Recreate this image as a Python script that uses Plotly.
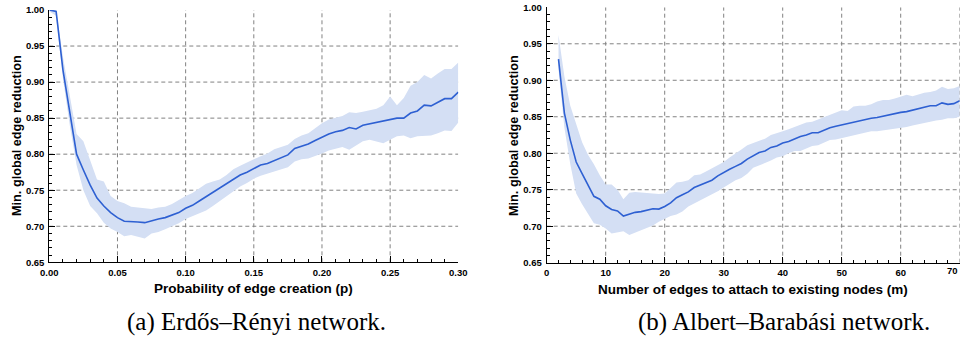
import plotly.graph_objects as go

# ---------------- data: Erdős–Rényi ----------------
er_p = [round(i * 0.005, 3) for i in range(61)]
er_mean = [1.000, 0.998, 0.917, 0.857, 0.800, 0.778, 0.757, 0.739, 0.728, 0.719,
           0.712, 0.707, 0.707, 0.706, 0.705, 0.708, 0.710, 0.712, 0.715, 0.719,
           0.725, 0.729, 0.735, 0.741, 0.748, 0.753, 0.759, 0.766, 0.771, 0.775,
           0.780, 0.785, 0.787, 0.791, 0.795, 0.799, 0.808, 0.811, 0.814, 0.819,
           0.824, 0.828, 0.831, 0.833, 0.837, 0.835, 0.840, 0.842, 0.843, 0.845,
           0.847, 0.850, 0.850, 0.857, 0.860, 0.868, 0.867, 0.872, 0.877, 0.877,
           0.886]
er_upper = [1.000, 1.000, 0.935, 0.880, 0.828, 0.818, 0.790, 0.765, 0.762, 0.742,
            0.735, 0.732, 0.727, 0.726, 0.725, 0.724, 0.726, 0.727, 0.731, 0.737,
            0.742, 0.746, 0.753, 0.759, 0.762, 0.765, 0.771, 0.779, 0.784, 0.789,
            0.793, 0.797, 0.801, 0.807, 0.810, 0.813, 0.821, 0.826, 0.829, 0.836,
            0.843, 0.848, 0.850, 0.853, 0.858, 0.857, 0.859, 0.861, 0.863, 0.868,
            0.880, 0.868, 0.878, 0.895, 0.900, 0.910, 0.905, 0.912, 0.918, 0.918,
            0.927]
er_lower = [0.998, 0.992, 0.905, 0.840, 0.785, 0.750, 0.728, 0.718, 0.705, 0.697,
            0.692, 0.686, 0.688, 0.685, 0.683, 0.690, 0.692, 0.696, 0.700, 0.704,
            0.710, 0.714, 0.718, 0.722, 0.728, 0.735, 0.741, 0.748, 0.755, 0.760,
            0.766, 0.770, 0.773, 0.777, 0.780, 0.782, 0.790, 0.793, 0.794, 0.797,
            0.801, 0.805, 0.807, 0.810, 0.806, 0.812, 0.818, 0.820, 0.817, 0.815,
            0.820, 0.825, 0.826, 0.822, 0.825, 0.826, 0.826, 0.829, 0.833, 0.832,
            0.844]

# ---------------- data: Albert–Barabási ----------------
ab_m = list(range(2, 71))
ab_mean = [0.929, 0.855, 0.818, 0.788, 0.772, 0.756, 0.741, 0.737, 0.728, 0.723,
           0.721, 0.714, 0.717, 0.719, 0.720, 0.722, 0.724, 0.7235, 0.727, 0.732,
           0.739, 0.743, 0.747, 0.753, 0.756, 0.759, 0.763, 0.769, 0.774, 0.778,
           0.782, 0.786, 0.792, 0.797, 0.801, 0.803, 0.808, 0.810, 0.814, 0.816,
           0.820, 0.823, 0.825, 0.828, 0.828, 0.832, 0.835, 0.837, 0.839, 0.841,
           0.842, 0.845, 0.847, 0.848, 0.849, 0.851, 0.853, 0.855, 0.856, 0.857,
           0.859, 0.860, 0.862, 0.865, 0.865, 0.869, 0.867, 0.868, 0.872]
ab_upper = [0.962, 0.905, 0.865, 0.840, 0.815, 0.798, 0.785, 0.770, 0.757, 0.757,
            0.750, 0.737, 0.746, 0.747, 0.746, 0.745, 0.745, 0.744, 0.745, 0.752,
            0.760, 0.761, 0.763, 0.770, 0.771, 0.775, 0.779, 0.784, 0.788, 0.794,
            0.799, 0.805, 0.811, 0.814, 0.818, 0.820, 0.825, 0.827, 0.830, 0.833,
            0.836, 0.840, 0.842, 0.843, 0.846, 0.850, 0.852, 0.855, 0.859, 0.858,
            0.864, 0.865, 0.865, 0.867, 0.871, 0.873, 0.873, 0.875, 0.878, 0.880,
            0.878, 0.881, 0.883, 0.884, 0.886, 0.891, 0.888, 0.889, 0.892]
ab_lower = [0.915, 0.835, 0.785, 0.745, 0.730, 0.716, 0.704, 0.702, 0.697, 0.690,
            0.692, 0.693, 0.688, 0.691, 0.694, 0.697, 0.701, 0.706, 0.710, 0.714,
            0.716, 0.720, 0.727, 0.731, 0.736, 0.740, 0.744, 0.748, 0.753, 0.758,
            0.763, 0.766, 0.772, 0.780, 0.783, 0.787, 0.790, 0.794, 0.796, 0.800,
            0.803, 0.803, 0.806, 0.810, 0.811, 0.815, 0.818, 0.819, 0.821, 0.823,
            0.825, 0.827, 0.829, 0.830, 0.830, 0.831, 0.832, 0.834, 0.835, 0.836,
            0.838, 0.840, 0.842, 0.843, 0.845, 0.846, 0.848, 0.848, 0.850]

y_ticks = [0.65, 0.70, 0.75, 0.80, 0.85, 0.90, 0.95, 1.00]
y_grid = [0.70, 0.75, 0.80, 0.85, 0.90, 0.95]
er_x_ticks = [0.00, 0.05, 0.10, 0.15, 0.20, 0.25, 0.30]
er_x_grid = [0.05, 0.10, 0.15, 0.20, 0.25]
ab_x_ticks = [0, 10, 20, 30, 40, 50, 60, 70]
ab_x_grid = [10, 20, 30, 40, 50, 60, 70]

y_title = "Min. global edge reduction"
er_x_title = "Probability of edge creation (p)"
ab_x_title = "Number of edges to attach to existing nodes (m)"
er_caption = "(a) Erdős–Rényi network."
ab_caption = "(b) Albert–Barabási network."

# ---------------- styling ----------------
W, H = 962, 343
LINE = "rgb(46,96,210)"
BAND = "rgb(212,223,244)"
GRID = "rgb(130,130,130)"
SANS = "Liberation Sans"

def px_x(v):
    return v / W

def px_y(v):
    return 1 - v / H

fig = go.Figure()

def add_panel(xs, mean, upper, lower, xa, ya):
    fig.add_trace(go.Scatter(x=xs, y=upper, mode="lines", line=dict(width=0, color=BAND),
                             xaxis=xa, yaxis=ya, showlegend=False, hoverinfo="skip"))
    fig.add_trace(go.Scatter(x=xs, y=lower, mode="lines", line=dict(width=0, color=BAND),
                             fill="tonexty", fillcolor=BAND,
                             xaxis=xa, yaxis=ya, showlegend=False, hoverinfo="skip"))
    fig.add_trace(go.Scatter(x=xs, y=mean, mode="lines", line=dict(width=1.6, color=LINE),
                             xaxis=xa, yaxis=ya, showlegend=False))

add_panel(er_p, er_mean, er_upper, er_lower, "x", "y")
add_panel(ab_m, ab_mean, ab_upper, ab_lower, "x2", "y2")

tickfont = dict(family=SANS, size=9.5, color="black", weight="bold")

def xaxis(domain, rng, ticks, minor_dtick, fmt, anchor):
    return dict(domain=domain, range=rng, tickvals=ticks, tickformat=fmt,
                showgrid=False, zeroline=False, showline=True, linecolor="black",
                linewidth=1, ticks="inside", ticklen=6, tickwidth=1, tickcolor="black",
                minor=dict(ticks="inside", ticklen=3, tickwidth=1, tickcolor="black",
                           dtick=minor_dtick, tick0=0, showgrid=False),
                tickfont=tickfont, anchor=anchor, fixedrange=True, ticklabelstandoff=1,
                automargin=False)

def yaxis(domain, anchor):
    return dict(domain=domain, range=[0.65, 1.0], tickvals=y_ticks, tickformat=".2f",
                showgrid=False, zeroline=False, showline=True, linecolor="black",
                linewidth=1, ticks="inside", ticklen=6, tickwidth=1, tickcolor="black",
                minor=dict(ticks="inside", ticklen=3, tickwidth=1, tickcolor="black",
                           dtick=0.01, tick0=0.65, showgrid=False),
                tickfont=tickfont, anchor=anchor, fixedrange=True, ticklabelstandoff=2,
                automargin=False)

fig.update_layout(
    width=W, height=H,
    margin=dict(l=0, r=0, t=0, b=0, autoexpand=False),
    paper_bgcolor="white", plot_bgcolor="white",
    xaxis=xaxis([px_x(49.3), px_x(458.3)], [0, 0.30], er_x_ticks, 0.01, ".2f", "y"),
    yaxis=yaxis([px_y(262.3), px_y(10)], "x"),
    xaxis2=xaxis([px_x(546.7), px_x(959.7)], [0, 70], ab_x_ticks, 2, "d", "y2"),
    yaxis2=yaxis([px_y(262.7), px_y(7.3)], "x2"),
)

shapes = []
for xa, ya, xg, xr in (("x", "y", er_x_grid, [0, 0.30]), ("x2", "y2", ab_x_grid, [0, 70])):
    for g in y_grid:
        shapes.append(dict(type="line", xref=xa, yref=ya, x0=xr[0], x1=xr[1], y0=g, y1=g,
                           line=dict(color=GRID, width=1, dash="4px,3px"), layer="below"))
    for g in xg:
        shapes.append(dict(type="line", xref=xa, yref=ya, x0=g, x1=g, y0=0.65, y1=1.0,
                           line=dict(color=GRID, width=1, dash="4px,3px"), layer="below"))
fig.update_layout(shapes=shapes)

title_font = dict(family=SANS, size=13.5, color="black", weight="bold")
ytitle_font = dict(family=SANS, size=12.7, color="black", weight="bold")
cap_font = dict(family="Liberation Serif", size=25, color="black")
annotations = [
    dict(text=y_title, x=px_x(17), y=px_y(136), textangle=-90, font=ytitle_font),
    dict(text=y_title, x=px_x(514), y=px_y(136), textangle=-90, font=ytitle_font),
    dict(text=er_x_title, x=px_x(253.5), y=px_y(288.5), font=title_font),
    dict(text=ab_x_title, x=px_x(753), y=px_y(289), font=title_font),
    dict(text=er_caption, x=px_x(256), y=px_y(322), font=cap_font),
    dict(text=ab_caption, x=px_x(784), y=px_y(322), font=cap_font),
]
for a in annotations:
    a.update(xref="paper", yref="paper", showarrow=False, xanchor="center", yanchor="middle")
# last x tick label of panel (b) sits at the page edge: right-align it so it stays visible
annotations.append(dict(text=str(ab_x_ticks[-1]), x=ab_x_ticks[-1], xref="x2",
                        y=px_y(270), yref="paper", showarrow=False,
                        xanchor="right", yanchor="middle", font=tickfont))
fig.update_layout(annotations=annotations)

fig.write_html("out.html")
